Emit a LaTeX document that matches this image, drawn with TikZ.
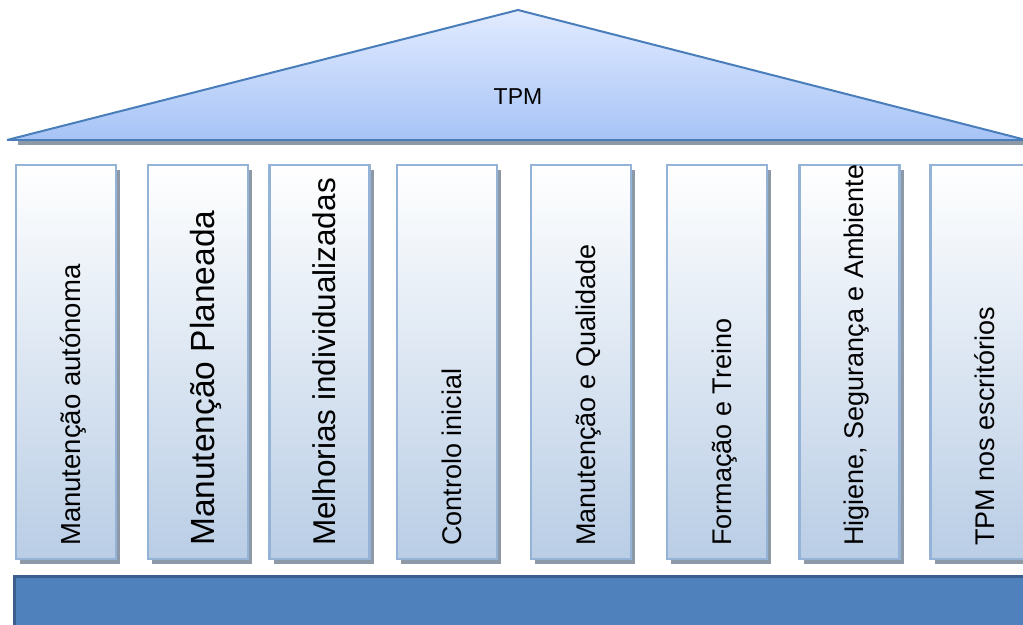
\documentclass[tikz,border=0pt]{standalone}
\usepackage{fontspec}
\setmainfont{Liberation Sans}
\usetikzlibrary{shadows}
\definecolor{roofline}{HTML}{4A7EBB}
\definecolor{rooftop}{HTML}{E2EBFF}
\definecolor{roofbot}{HTML}{A6C3F6}
\definecolor{pilborder}{HTML}{95B3D7}
\definecolor{pilbot}{HTML}{B9CDE5}
\definecolor{shadowgray}{HTML}{8E99A8}
\definecolor{basefill}{HTML}{4F81BD}
\definecolor{basedark}{HTML}{3A5F8F}
\tikzset{
  pillar/.style={draw=pilborder, line width=2.5pt, top color=white, bottom color=pilbot,
    minimum width=100pt, minimum height=394pt, inner sep=0pt,
    drop shadow={shadow xshift=4pt, shadow yshift=-5pt, fill=shadowgray, opacity=1}},
  ptext/.style={rotate=90, anchor=base west, inner sep=0pt, font=\fontsize{#1}{32}\selectfont},
}
\begin{document}
\begin{tikzpicture}[x=1pt,y=-1pt]
\useasboundingbox (0,0) rectangle (1023,624);
\clip (0,0) rectangle (1023,624);
% roof
\fill[shadowgray] (18,141) rectangle (1030,145);
\shade[top color=rooftop, bottom color=roofbot] (7,140) -- (518,10) -- (1030,141) -- cycle;
\draw[roofline, line width=2pt, line join=miter] (7,140) -- (518,10) -- (1030,141);
\draw[roofline, line width=2pt] (7,140) -- (1030,140);
\node[font=\fontsize{23}{27}\selectfont, inner sep=0pt] (tpm) at (518,97) {TPM};
% pillars
\node[pillar] (p1) at (66,362) {};
\node[pillar] (p2) at (198,362) {};
\node[pillar] (p3) at (319.5,362) {};
\node[pillar] (p4) at (447,362) {};
\node[pillar] (p5) at (581,362) {};
\node[pillar] (p6) at (717,362) {};
\node[pillar] (p7) at (849.5,362) {};
\node[pillar] (p8) at (980.5,362) {};
\node[ptext=27.5] (t1) at (80,546) {Manutenção autónoma};
\node[ptext=33.5] (t2) at (214,546) {Manutenção Planeada};
\node[ptext=31.5] (t3) at (335,546) {Melhorias individualizadas};
\node[ptext=27] (t4) at (461,546) {Controlo inicial};
\node[ptext=27] (t5) at (595,546) {Manutenção e Qualidade};
\node[ptext=27] (t6) at (731,546) {Formação e Treino};
\node[ptext=27] (t7) at (863.5,546) {Higiene, Segurança e Ambiente};
\node[ptext=27] (t8) at (994,546) {TPM nos escritórios};
% base
\fill[basefill] (13,575) rectangle (1030,630);
\draw[basedark, line width=3pt] (14.5,640) -- (14.5,576.5) -- (1030,576.5);
\end{tikzpicture}
\end{document}
